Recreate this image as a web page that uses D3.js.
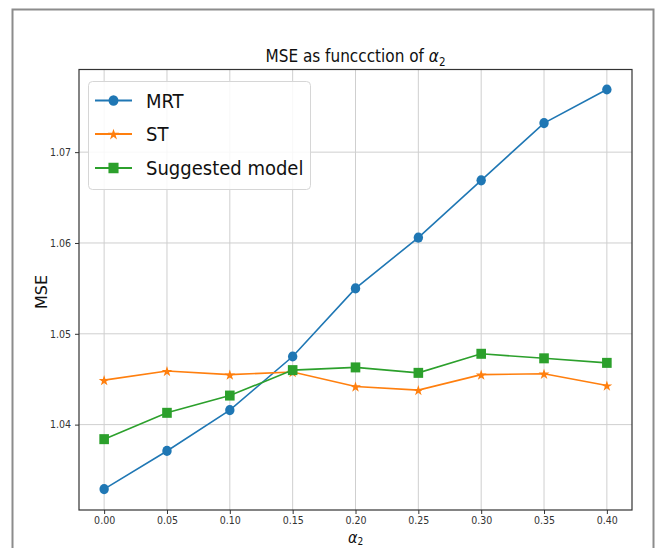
<!DOCTYPE html>
<html>
<head>
<meta charset="utf-8">
<script src="https://cdn.jsdelivr.net/npm/d3@7"></script>
<style>
  html, body { margin: 0; padding: 0; background: #fff; }
  svg { display: block; }
  text { font-family: "DejaVu Sans Condensed", "DejaVu Sans", sans-serif; }
</style>
</head>
<body>
<svg id="chart" width="658" height="548"></svg>
<script>
const categories = [0.00, 0.05, 0.10, 0.15, 0.20, 0.25, 0.30, 0.35, 0.40];
const xTickLabels = ["0.00", "0.05", "0.10", "0.15", "0.20", "0.25", "0.30", "0.35", "0.40"];
const yTickValues = [1.04, 1.05, 1.06, 1.07];
const yTickLabels = ["1.04", "1.05", "1.06", "1.07"];
const seriesNames = ["MRT", "ST", "Suggested model"];
const mrtValues = [1.0329, 1.0371, 1.0416, 1.0475, 1.0550, 1.0606, 1.0669, 1.0732, 1.0769];
const stValues = [1.0449, 1.0459, 1.0455, 1.0458, 1.0442, 1.0438, 1.0455, 1.0456, 1.0443];
const suggestedValues = [1.0384, 1.0413, 1.0432, 1.0460, 1.0463, 1.0457, 1.0478, 1.0473, 1.0468];
const colors = ["#1f77b4", "#ff7f0e", "#2ca02c"];
const markers = ["circle", "star", "square"];

const svg = d3.select("#chart");
const plot = { left: 79, right: 632, top: 69.5, bottom: 510 };

const x = d3.scaleLinear().domain([-0.02, 0.42]).range([plot.left, plot.right]);
const y = d3.scaleLinear().domain([1.0306, 1.0791]).range([plot.bottom, plot.top]);

// outer frame
svg.append("rect")
  .attr("x", 12.5).attr("y", 9.5).attr("width", 641).attr("height", 570)
  .attr("fill", "none").attr("stroke", "#8c8c8c").attr("stroke-width", 2);

// grid
const grid = svg.append("g");
grid.selectAll("line.gx").data(categories).join("line")
  .attr("x1", d => x(d)).attr("x2", d => x(d))
  .attr("y1", plot.top).attr("y2", plot.bottom)
  .attr("stroke", "#cfcfcf").attr("stroke-width", 1);
grid.selectAll("line.gy").data(yTickValues).join("line")
  .attr("x1", plot.left).attr("x2", plot.right)
  .attr("y1", d => y(d)).attr("y2", d => y(d))
  .attr("stroke", "#cfcfcf").attr("stroke-width", 1);

// axes
const xAxis = d3.axisBottom(x).tickValues(categories)
  .tickFormat((d, i) => xTickLabels[i]).tickSize(4).tickSizeOuter(0).tickPadding(3);
const gx = svg.append("g").attr("transform", `translate(0,${plot.bottom})`).call(xAxis);
const yAxis = d3.axisLeft(y).tickValues(yTickValues)
  .tickFormat((d, i) => yTickLabels[i]).tickSize(4).tickSizeOuter(0).tickPadding(4);
const gy = svg.append("g").attr("transform", `translate(${plot.left},0)`).call(yAxis);
[gx, gy].forEach(g => {
  g.select(".domain").remove();
  g.selectAll(".tick line").attr("stroke", "#333");
  g.selectAll(".tick text").attr("fill", "#333").style("font-size", "10.5px")
    .style("font-family", "'DejaVu Sans Condensed', 'DejaVu Sans', sans-serif");
});

// spines
svg.append("rect")
  .attr("x", plot.left).attr("y", plot.top)
  .attr("width", plot.right - plot.left).attr("height", plot.bottom - plot.top)
  .attr("fill", "none").attr("stroke", "#333").attr("stroke-width", 1.2);

// series
const allSeries = [mrtValues, stValues, suggestedValues];
const line = d3.line().x((d, i) => x(categories[i])).y(d => y(d));

function drawMarker(g, type, color, cx, cy, scale) {
  const s = scale || 1;
  if (type === "circle") {
    g.append("ellipse").attr("cx", cx).attr("cy", cy).attr("rx", 4.7 * s).attr("ry", 5.1 * s).attr("fill", color);
  } else if (type === "square") {
    g.append("rect").attr("x", cx - 4.8 * s).attr("y", cy - 5 * s)
      .attr("width", 9.6 * s).attr("height", 10 * s).attr("fill", color);
  } else {
    g.append("path").attr("d", d3.symbol(d3.symbolStar, 36 * s * s)())
      .attr("transform", `translate(${cx},${cy + 0.6})`).attr("fill", color);
  }
}

allSeries.forEach((vals, k) => {
  const g = svg.append("g");
  g.append("path").datum(vals).attr("d", line)
    .attr("fill", "none").attr("stroke", colors[k]).attr("stroke-width", 1.6);
  vals.forEach((v, i) => drawMarker(g, markers[k], colors[k], x(categories[i]), y(v)));
});

// title
const title = svg.append("text").attr("x", (plot.left + plot.right) / 2).attr("y", 62)
  .attr("text-anchor", "middle").style("font-size", "17px").attr("fill", "#111");
title.append("tspan").text("MSE as funccction of ");
title.append("tspan").style("font-style", "italic").text("α");
title.append("tspan").attr("dy", 4).style("font-size", "11.5px").text("2");

// axis labels
svg.append("text").attr("transform", `translate(47,292) rotate(-90)`)
  .attr("text-anchor", "middle").style("font-size", "16px")
  .style("font-family", "'DejaVu Sans', sans-serif").attr("fill", "#111").text("MSE");
const xl = svg.append("text").attr("x", (plot.left + plot.right) / 2).attr("y", 543)
  .attr("text-anchor", "middle").style("font-size", "16px").attr("fill", "#111");
xl.append("tspan").style("font-style", "italic").text("α");
xl.append("tspan").attr("dy", 2).style("font-size", "10px").text("2");

// legend
const leg = svg.append("g");
leg.append("rect").attr("x", 88.5).attr("y", 81.5).attr("width", 222).attr("height", 108)
  .attr("rx", 4).attr("fill", "#fff").attr("fill-opacity", 0.85)
  .attr("stroke", "#d6d6d6").attr("stroke-width", 1);
const legY = [100.5, 134, 168];
seriesNames.forEach((name, k) => {
  leg.append("line").attr("x1", 95).attr("x2", 132).attr("y1", legY[k]).attr("y2", legY[k])
    .attr("stroke", colors[k]).attr("stroke-width", 1.8);
  drawMarker(leg, markers[k], colors[k], 113.5, legY[k], 1.05);
  leg.append("text").attr("x", 146).attr("y", legY[k]).attr("dy", "0.36em")
    .style("font-size", "20px").attr("fill", "#111").text(name);
});
</script>
</body>
</html>
